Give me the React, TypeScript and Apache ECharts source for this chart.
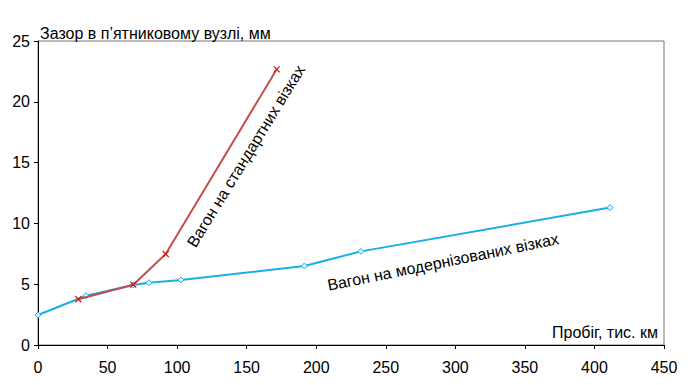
import React, { useEffect, useRef } from "react";
import * as echarts from "echarts";

const modernX = [0, 34.5, 68.5, 79.8, 102.8, 191.5, 232.2, 411.2];
const modernY = [2.47, 4.05, 4.93, 5.12, 5.35, 6.5, 7.7, 11.3];
const standardX = [29, 68.5, 91.8, 171.6];
const standardY = [3.76, 4.96, 7.48, 22.67];
const yTicks = [0, 5, 10, 15, 20, 25];
const xTicks = [0, 50, 100, 150, 200, 250, 300, 350, 400, 450];

const FONT = "'Liberation Sans', Arial, sans-serif";

export default function App() {
  const ref = useRef<HTMLDivElement>(null);
  useEffect(() => {
    if (!ref.current) return;
    const chart = echarts.init(ref.current, undefined, { renderer: "svg" });
    chart.setOption({
      animation: false,
      backgroundColor: "#fff",
      grid: {
        left: 38,
        right: 27,
        top: 41,
        bottom: 40,
        show: true,
        borderColor: "#777",
        borderWidth: 1,
      },
      xAxis: {
        type: "value",
        min: xTicks[0],
        max: xTicks[xTicks.length - 1],
        interval: 50,
        axisLine: { show: true, onZero: false, lineStyle: { color: "#000", width: 1 } },
        axisTick: { show: true, length: 4, lineStyle: { color: "#000" } },
        axisLabel: { color: "#000", fontSize: 16, fontFamily: FONT, margin: 14 },
        splitLine: { show: false },
      },
      yAxis: {
        type: "value",
        min: yTicks[0],
        max: yTicks[yTicks.length - 1],
        interval: 5,
        axisLine: { show: true, onZero: false, lineStyle: { color: "#000", width: 1 } },
        axisTick: { show: true, length: 4, lineStyle: { color: "#000" } },
        axisLabel: { color: "#000", fontSize: 16, fontFamily: FONT, margin: 8 },
        splitLine: { show: false },
      },
      series: [
        {
          type: "line",
          data: modernX.map((x, i) => [x, modernY[i]]),
          symbol: "diamond",
          symbolSize: 6,
          lineStyle: { color: "#1aaee8", width: 2 },
          itemStyle: { color: "#dff4fc", borderColor: "#1aaee8", borderWidth: 1 },
          z: 2,
        },
        {
          type: "line",
          data: standardX.map((x, i) => [x, standardY[i]]),
          symbol: "path://M0 0L10 10M10 0L0 10",
          symbolSize: 6,
          lineStyle: { color: "#c0504d", width: 2 },
          itemStyle: { color: "none", borderColor: "#e01010", borderWidth: 1.2 },
          z: 3,
        },
      ],
      graphic: [
        {
          type: "rect",
          shape: { x: 39, y: 28, width: 238, height: 12 },
          style: { fill: "#fff" },
          z: 100,
        },
        {
          type: "text",
          x: 40,
          y: 41,
          z: 101,
          style: {
            text: "Зазор в п’ятниковому вузлі, мм",
            font: `16px ${FONT}`,
            fill: "#000",
            align: "left",
            verticalAlign: "bottom",
          },
        },
        {
          type: "text",
          x: 658,
          y: 340,
          z: 101,
          style: {
            text: "Пробіг, тис. км",
            font: `16px ${FONT}`,
            fill: "#000",
            align: "right",
            verticalAlign: "bottom",
          },
        },
        {
          type: "text",
          x: 246,
          y: 156,
          rotation: 1.02,
          z: 101,
          style: {
            text: "Вагон на стандартних візках",
            font: `16px ${FONT}`,
            fill: "#000",
            align: "center",
            verticalAlign: "middle",
          },
        },
        {
          type: "text",
          x: 443,
          y: 262,
          rotation: 0.2,
          z: 101,
          style: {
            text: "Вагон на модернізованих візках",
            font: `16px ${FONT}`,
            fill: "#000",
            align: "center",
            verticalAlign: "middle",
          },
        },
      ],
    });
    return () => chart.dispose();
  }, []);
  return <div ref={ref} style={{ width: 691, height: 385, position: "absolute", left: 0, top: 0 }} />;
}
